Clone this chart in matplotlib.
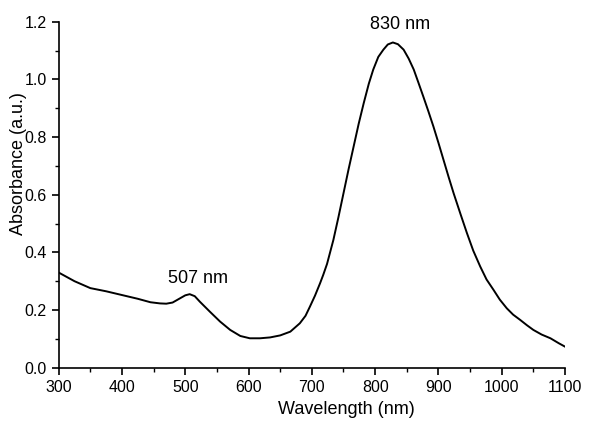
import matplotlib
matplotlib.use("Agg")
import matplotlib.pyplot as plt
from matplotlib.ticker import MultipleLocator

# Absorbance spectrum
wavelength = [300, 325, 350, 375, 400, 425, 445, 460, 470, 480, 492, 500, 507, 515,
              523, 539, 555, 571, 587, 602, 618, 634, 650, 666, 681, 690, 697, 705,
              713, 718, 724, 734, 742, 750, 758, 766, 774, 782, 790, 797, 805, 813,
              820, 828, 836, 845, 853, 861, 868, 876, 884, 892, 900, 908, 916, 924,
              935, 945, 955, 966, 976, 987, 997, 1008, 1018, 1029, 1040, 1050, 1063,
              1077, 1090, 1100]
absorbance = [0.330, 0.300, 0.276, 0.265, 0.252, 0.239, 0.227, 0.223, 0.222, 0.226,
              0.241, 0.251, 0.255, 0.248, 0.229, 0.194, 0.160, 0.131, 0.110, 0.102,
              0.102, 0.105, 0.112, 0.125, 0.154, 0.180, 0.212, 0.250, 0.293, 0.322,
              0.360, 0.443, 0.522, 0.605, 0.688, 0.767, 0.846, 0.918, 0.985, 1.034,
              1.078, 1.103, 1.121, 1.128, 1.122, 1.103, 1.072, 1.034, 0.991, 0.941,
              0.890, 0.837, 0.780, 0.721, 0.662, 0.605, 0.532, 0.467, 0.406, 0.351,
              0.306, 0.270, 0.236, 0.206, 0.184, 0.166, 0.147, 0.131, 0.115, 0.102,
              0.085, 0.073]

peak_labels = ["507 nm", "830 nm"]
peak_pos = [(520, 0.311), (840, 1.19)]

plt.rcParams["font.family"] = ["Liberation Sans", "DejaVu Sans"]

fig = plt.figure(figsize=(6.0, 4.29), dpi=100)
ax = fig.add_axes([0.0978, 0.1429, 0.8439, 0.8065])

ax.plot(wavelength, absorbance, color="black", linewidth=1.4)

ax.set_xlim(300, 1100)
ax.set_ylim(0, 1.2)
ax.xaxis.set_major_locator(MultipleLocator(100))
ax.xaxis.set_minor_locator(MultipleLocator(50))
ax.yaxis.set_major_locator(MultipleLocator(0.2))
ax.yaxis.set_minor_locator(MultipleLocator(0.1))
ax.yaxis.set_major_formatter(plt.FormatStrFormatter("%.1f"))

ax.spines["top"].set_visible(False)
ax.spines["right"].set_visible(False)
ax.spines["left"].set_linewidth(1.2)
ax.spines["bottom"].set_linewidth(1.2)
ax.tick_params(which="major", direction="out", length=5, width=1.2, labelsize=11.5)
ax.tick_params(which="minor", direction="out", length=3, width=1.0)

ax.set_xlabel("Wavelength (nm)", fontsize=13)
ax.set_ylabel("Absorbance (a.u.)", fontsize=13)
ax.xaxis.set_label_coords(0.569, -0.095)
ax.yaxis.set_label_coords(-0.062, 0.59)

for label, (x, y) in zip(peak_labels, peak_pos):
    ax.text(x, y, label, ha="center", va="center", fontsize=13, clip_on=False)

fig.savefig("out.png", dpi=100)
